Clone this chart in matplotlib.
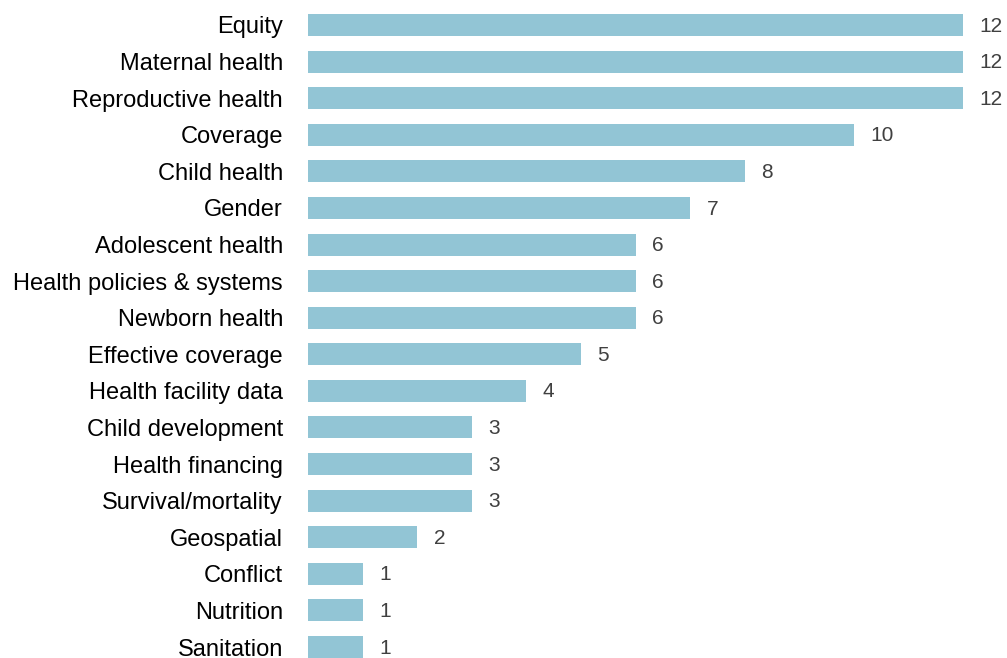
import matplotlib
matplotlib.use("Agg")
import matplotlib.pyplot as plt

topics = ["Equity", "Maternal health", "Reproductive health", "Coverage",
          "Child health", "Gender", "Adolescent health",
          "Health policies & systems", "Newborn health", "Effective coverage",
          "Health facility data", "Child development", "Health financing",
          "Survival/mortality", "Geospatial", "Conflict", "Nutrition",
          "Sanitation"]
counts = [12, 12, 12, 10, 8, 7, 6, 6, 6, 5, 4, 3, 3, 3, 2, 1, 1, 1]

bar_color = "#92c5d5"

fig = plt.figure(figsize=(10.07, 6.58), dpi=100)
ax = fig.add_axes([308 / 1007, 0, 699 / 1007, 1])

ypos = list(range(len(topics)))
ax.barh(ypos, counts, height=0.6, color=bar_color)

for y, v in zip(ypos, counts):
    ax.text(v + 0.3, y + 0.03, str(v), va="center", ha="left", fontsize=15,
            color="#404040", family=["Liberation Sans", "DejaVu Sans"])

ax.set_yticks(ypos)
ax.set_yticklabels(topics, fontsize=17,
                   family=["Liberation Sans Narrow", "Liberation Sans", "DejaVu Sans"])
ax.tick_params(axis="y", length=0, pad=18)
ax.set_xticks([])
ax.set_xlim(0, 699 / 54.6)
ax.set_ylim(17 + 11 / 36.6, -25 / 36.6)
for s in ax.spines.values():
    s.set_visible(False)

fig.savefig("out.png", dpi=100)
